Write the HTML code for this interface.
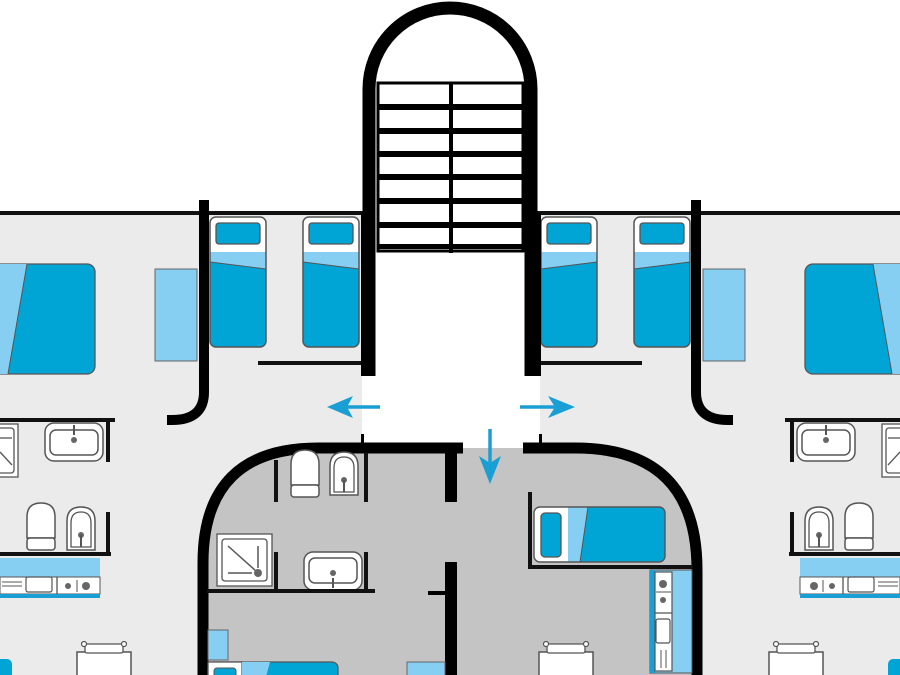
<!DOCTYPE html>
<html><head><meta charset="utf-8"><style>html,body{margin:0;padding:0;background:#fff}svg{display:block}</style></head>
<body>
<svg width="900" height="675" viewBox="0 0 900 675" xmlns="http://www.w3.org/2000/svg">
<defs>
  <g id="bed">
    <rect x="0" y="0" width="56" height="130" rx="6" fill="#00a5d6"/>
    <path d="M0,35 V6 Q0,0 6,0 H50 Q56,0 56,6 V35 Z" fill="#fff"/>
    <polygon points="0,35 56,35 56,52 0,45" fill="#86cff2"/>
    <line x1="0" y1="45" x2="56" y2="52" stroke="#555" stroke-width="1"/>
    <rect x="6" y="6" width="44" height="21" rx="3" fill="#00a5d6" stroke="#555" stroke-width="1.3"/>
    <rect x="0" y="0" width="56" height="130" rx="6" fill="none" stroke="#555" stroke-width="1.5"/>
  </g>
  <g id="sink">
    <rect x="0" y="0" width="58" height="38" rx="9" fill="#fff" stroke="#555" stroke-width="1.5"/>
    <rect x="5" y="7" width="48" height="25" rx="6" fill="#fff" stroke="#555" stroke-width="1.5"/>
    <circle cx="29" cy="17" r="3" fill="#666"/>
    <line x1="29" y1="2" x2="29" y2="12" stroke="#555" stroke-width="2"/>
  </g>
  <g id="toilet">
    <path d="M0,35 V14 Q0,0 14,0 Q28,0 28,14 V35 Z" fill="#fff" stroke="#555" stroke-width="1.5"/>
    <rect x="0" y="35" width="28" height="12" rx="3" fill="#fff" stroke="#555" stroke-width="1.5"/>
  </g>
  <g id="bidet">
    <path d="M0,43 V14 Q0,0 14,0 Q28,0 28,14 V43 Z" fill="#fff" stroke="#555" stroke-width="1.5"/>
    <path d="M4,40 V16 Q4,5 14,5 Q24,5 24,16 V40 Z" fill="#fff" stroke="#555" stroke-width="1.3"/>
    <circle cx="14" cy="28" r="3" fill="#666"/>
    <line x1="14" y1="28" x2="14" y2="40" stroke="#555" stroke-width="2"/>
  </g>
  <g id="table">
    <rect x="0" y="11" width="54" height="30" fill="#fff" stroke="#555" stroke-width="1.5"/>
    <rect x="8" y="3" width="38" height="9" rx="2" fill="#fff" stroke="#555" stroke-width="1.3"/>
    <circle cx="7" cy="3" r="2.5" fill="#fff" stroke="#555" stroke-width="1.2"/>
    <circle cx="47" cy="3" r="2.5" fill="#fff" stroke="#555" stroke-width="1.2"/>
  </g>
  <g id="wing">
    <!-- wall line top -->
    <rect x="0" y="211" width="365" height="4" fill="#111"/>
    <!-- wardrobe -->
    <rect x="155" y="269" width="42" height="92" fill="#86cff2" stroke="#666" stroke-width="1"/>
    <!-- double bed -->
    <rect x="-12" y="264" width="107" height="110" rx="8" fill="#00a5d6" stroke="#555" stroke-width="1.3"/>
    <polygon points="-12,264 27,264 8,374 -12,374" fill="#86cff2"/>
    <line x1="27" y1="264" x2="8" y2="374" stroke="#555" stroke-width="1"/>
    <!-- twin beds -->
    <use href="#bed" x="210" y="217"/>
    <use href="#bed" x="303" y="217"/>
    <rect x="258" y="361" width="104" height="4" fill="#111"/>
    <!-- curved wall -->
    <path d="M204,200 V392 Q204,420 172,420 H167" fill="none" stroke="#000" stroke-width="10"/>
    <!-- bathroom -->
    <rect x="0" y="418" width="115" height="4" fill="#111"/>
    <rect x="106" y="418" width="4" height="44" fill="#111"/>
    <use href="#sink" x="45" y="423"/>
    <rect x="-10" y="424" width="28" height="53" fill="#fff" stroke="#555" stroke-width="1.3"/>
    <rect x="-6" y="428" width="20" height="45" rx="3" fill="#fff" stroke="#555" stroke-width="1.3"/>
    <line x1="0" y1="438" x2="12" y2="438" stroke="#555" stroke-width="1.3"/>
    <line x1="0" y1="452" x2="12" y2="465" stroke="#555" stroke-width="1.3"/>
    <use href="#toilet" x="27" y="503"/>
    <use href="#bidet" x="67" y="507"/>
    <rect x="0" y="552" width="111" height="4" fill="#111"/>
    <rect x="106" y="512" width="4" height="44" fill="#111"/>
    <!-- kitchen -->
    <rect x="0" y="558" width="100" height="40" fill="#86cff2"/>
    <rect x="0" y="577" width="100" height="17" fill="#fff" stroke="#555" stroke-width="1"/>
    <rect x="0" y="594" width="100" height="4" fill="#1a9fd4"/>
    <rect x="26" y="577" width="26" height="15" rx="2" fill="#fff" stroke="#555" stroke-width="1.2"/>
    <line x1="2" y1="582" x2="22" y2="582" stroke="#555" stroke-width="1"/>
    <line x1="2" y1="586" x2="22" y2="586" stroke="#555" stroke-width="1"/>
    <line x1="57" y1="577" x2="57" y2="594" stroke="#555" stroke-width="1.3"/>
    <circle cx="68" cy="586" r="3" fill="#666"/>
    <circle cx="86" cy="586" r="4" fill="#666"/>
    <line x1="77" y1="580" x2="77" y2="592" stroke="#555" stroke-width="1"/>
    <!-- table -->
    <use href="#table" x="77" y="641"/>
    <rect x="-10" y="659" width="22" height="30" rx="5" fill="#00a5d6"/>
  </g>
</defs>

<!-- floor areas -->
<rect x="0" y="213" width="362" height="462" fill="#ebebeb"/>
<rect x="540" y="213" width="360" height="462" fill="#ebebeb"/>
<rect x="362" y="248" width="178" height="200" fill="#fff"/>

<use href="#wing"/>
<use href="#wing" transform="translate(900,0) scale(-1,1)"/>

<!-- pod -->
<path d="M203,690 V563 Q203,448 318,448 H575 Q697,448 697,570 V690 Z" fill="#c4c4c4"/>
<path d="M203,690 V563 Q203,448 318,448 H463" fill="none" stroke="#000" stroke-width="11"/>
<path d="M523,448 H575 Q697,448 697,570 V690" fill="none" stroke="#000" stroke-width="11"/>
<rect x="361" y="434" width="3" height="14" fill="#000"/>
<rect x="539" y="434" width="3" height="14" fill="#000"/>
<!-- central wall -->
<rect x="445" y="447" width="12" height="55" fill="#000"/>
<rect x="445" y="562" width="12" height="113" fill="#000"/>
<rect x="428" y="591" width="17" height="4" fill="#000"/>

<!-- pod left bathroom -->
<rect x="274" y="460" width="4" height="42" fill="#111"/>
<rect x="364" y="453" width="4" height="49" fill="#111"/>
<use href="#toilet" x="291" y="450"/>
<use href="#bidet" x="330" y="452"/>
<g>
  <rect x="217" y="534" width="55" height="52" fill="#fff" stroke="#555" stroke-width="1.3"/>
  <rect x="222" y="539" width="45" height="42" rx="3" fill="#fff" stroke="#555" stroke-width="1.3"/>
  <line x1="228" y1="546" x2="256" y2="571" stroke="#555" stroke-width="1.5"/>
  <line x1="258" y1="546" x2="258" y2="568" stroke="#555" stroke-width="1.5"/>
  <line x1="228" y1="573" x2="252" y2="573" stroke="#555" stroke-width="1.5"/>
  <circle cx="258" cy="573" r="4" fill="#666"/>
</g>
<rect x="274" y="552" width="4" height="38" fill="#111"/>
<rect x="364" y="552" width="4" height="38" fill="#111"/>
<g transform="translate(362,590) rotate(180)"><use href="#sink"/></g>
<rect x="207" y="589" width="168" height="4" fill="#111"/>
<rect x="208" y="630" width="20" height="30" fill="#86cff2" stroke="#666" stroke-width="1"/>
<rect x="208" y="662" width="130" height="30" rx="6" fill="#00a5d6" stroke="#555" stroke-width="1.3"/>
<rect x="208" y="662" width="34" height="30" fill="#fff" stroke="#555" stroke-width="1.3"/>
<rect x="214" y="668" width="22" height="20" rx="3" fill="#00a5d6" stroke="#555"/>
<polygon points="242,662 270,662 265,680 242,680" fill="#86cff2"/>
<rect x="407" y="662" width="38" height="20" fill="#86cff2" stroke="#666" stroke-width="1"/>

<!-- pod right -->
<rect x="528" y="492" width="4" height="77" fill="#111"/>
<rect x="528" y="565" width="165" height="4" fill="#111"/>
<rect x="534" y="507" width="131" height="55" rx="6" fill="#00a5d6"/>
<path d="M568,507 H540 Q534,507 534,513 V556 Q534,562 540,562 H568 Z" fill="#fff"/>
<polygon points="568,507 588,507 580,562 568,562" fill="#86cff2"/>
<line x1="588" y1="507" x2="580" y2="562" stroke="#555" stroke-width="1"/>
<rect x="541" y="513" width="20" height="44" rx="4" fill="#00a5d6" stroke="#555" stroke-width="1.3"/>
<rect x="534" y="507" width="131" height="55" rx="6" fill="none" stroke="#555" stroke-width="1.4"/>
<rect x="650" y="570" width="42" height="103" fill="#86cff2" stroke="#555" stroke-width="1"/>
<rect x="650" y="570" width="5" height="103" fill="#1a9fd4"/>
<rect x="655" y="572" width="17" height="99" fill="#fff" stroke="#555" stroke-width="1.2"/>
<circle cx="663" cy="584" r="4" fill="#666"/>
<circle cx="663" cy="600" r="3" fill="#666"/>
<line x1="656" y1="592" x2="671" y2="592" stroke="#555" stroke-width="1"/>
<line x1="655" y1="613" x2="672" y2="613" stroke="#555" stroke-width="1.2"/>
<rect x="656" y="619" width="14" height="24" rx="2" fill="#fff" stroke="#555" stroke-width="1.2"/>
<line x1="661" y1="650" x2="661" y2="668" stroke="#555" stroke-width="1"/>
<line x1="666" y1="650" x2="666" y2="668" stroke="#555" stroke-width="1"/>
<use href="#table" x="539" y="641"/>

<!-- stair -->
<rect x="378" y="83" width="145" height="168" fill="#fff" stroke="#000" stroke-width="3"/>
<g fill="#000">
  <rect x="378" y="104" width="145" height="6"/>
  <rect x="378" y="128" width="145" height="6"/>
  <rect x="378" y="151" width="145" height="6"/>
  <rect x="378" y="174" width="145" height="6"/>
  <rect x="378" y="198" width="145" height="6"/>
  <rect x="378" y="222" width="145" height="6"/>
  <rect x="378" y="244" width="145" height="5"/>
  <rect x="449" y="83" width="4" height="170"/>
</g>
<path d="M369,376 V89 A81,81 0 0 1 531,89 V376" fill="none" stroke="#000" stroke-width="13"/>
<rect x="527" y="213" width="14" height="163" fill="#000"/>
<rect x="361" y="213" width="14" height="163" fill="#000"/>

<!-- arrows -->
<g fill="#1a9fd4" stroke="#1a9fd4">
  <line x1="380" y1="407" x2="340" y2="407" stroke-width="3.5"/>
  <polygon points="327,407 353,396 347,407 353,418" stroke="none"/>
  <line x1="520" y1="407" x2="560" y2="407" stroke-width="3.5"/>
  <polygon points="575,407 548,396 555,407 548,418" stroke="none"/>
  <line x1="490" y1="429" x2="490" y2="470" stroke-width="3.5"/>
  <polygon points="490,484 479,456 490,463 501,456" stroke="none"/>
</g>
</svg>
</body></html>
